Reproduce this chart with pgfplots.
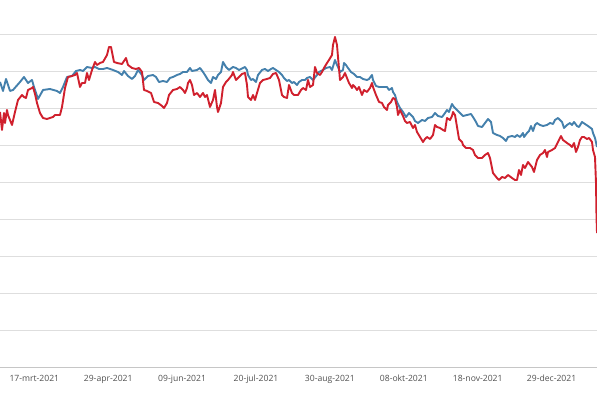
\documentclass[border=0pt]{standalone}
\usepackage{pgfplots}
\pgfplotsset{compat=1.18}
\usepackage{pgfplotstable}
\usepackage{fontspec}
\setmainfont{Open Sans}
\definecolor{serblue}{RGB}{68,128,172}
\definecolor{serred}{RGB}{208,32,45}
\definecolor{gridc}{RGB}{222,222,222}
\definecolor{labc}{RGB}{80,80,80}

\pgfplotstableread{
x y
0 285
3 276
6 288
10 276
13 277
20 285
24 290
28 284
32 287
34 280
38 268
43 277
50 278
57 276
60 274
63 280
67 290
72 291
76 296
80 297
83 296
87 300
92 299
95 300
99 298
103 298
107 299
113 297
118 295
122 292
124 296
128 291
132 288
135 291
138 297
142 292
144 287
148 291
153 292
156 290
159 285
163 286
167 285
170 289
173 290
177 292
180 293
183 295
187 295
190 299
192 296
197 297
200 299
203 295
205 292
208 287
211 284
213 290
216 288
218 292
221 295
223 305
226 300
229 297
233 300
236 299
239 297
243 299
245 300
247 297
248 292
251 287
253 288
256 285
258 292
262 297
265 298
268 296
271 298
273 299
276 297
279 295
282 292
284 289
287 286
289 287
292 284
294 285
297 282
299 285
302 287
305 287
307 289
310 290
313 287
317 292
319 295
323 297
326 299
330 300
332 297
335 307
337 302
338 300
340 295
343 297
344 304
346 302
348 299
351 295
354 293
357 290
360 290
363 288
367 287
369 288
372 292
373 287
376 281
379 280
383 280
387 280
389 277
392 279
393 275
395 272
397 265
400 259
403 255
406 250
409 254
413 250
415 246
418 244
422 247
425 246
428 249
432 250
435 254
438 251
442 250
445 254
447 257
449 255
452 263
454 260
457 257
460 254
463 251
467 252
471 253
473 250
476 245
478 241
482 240
485 244
488 248
491 245
493 234
497 232
500 231
503 229
506 226
508 230
512 231
515 230
517 232
520 230
523 234
524 230
527 234
529 236
531 241
533 236
535 242
537 244
540 242
543 241
547 242
550 244
553 243
555 247
558 249
562 245
564 239
567 242
570 244
572 242
574 245
577 241
579 240
582 245
585 243
588 241
592 238
593 234
595 229
597 220
}\blueseries

\pgfplotstableread{
x y
0 255
2 237
4 254
5 244
7 257
8 252
12 242
15 255
18 267
22 272
24 270
26 269
28 277
32 279
33 280
35 273
37 264
40 254
43 249
47 248
50 249
53 250
55 252
60 252
62 260
65 279
68 290
72 291
75 292
77 294
80 280
82 284
85 284
87 294
89 287
92 297
95 305
97 302
100 304
103 305
107 312
109 320
111 320
114 305
117 304
122 303
126 309
128 302
132 299
136 298
139 299
142 295
144 277
147 276
151 274
154 265
158 264
162 261
164 259
167 264
169 272
173 277
177 278
180 280
183 277
185 274
187 279
188 284
190 287
192 282
194 272
197 274
200 270
203 274
205 270
207 272
210 260
213 267
215 277
217 260
218 255
221 264
223 280
226 285
228 287
232 292
233 295
236 287
238 289
242 293
245 294
247 282
248 270
251 267
253 272
255 267
257 274
260 284
263 287
267 288
270 289
273 293
276 294
279 287
282 272
284 270
287 269
289 282
292 274
294 272
298 272
301 277
303 279
306 277
308 287
310 280
313 282
314 291
315 300
317 294
320 292
322 295
324 299
327 304
329 307
332 312
333 322
335 330
337 322
338 310
340 287
343 290
345 294
347 289
349 284
352 279
353 282
355 280
357 277
359 280
362 272
364 277
367 275
370 279
372 284
373 280
376 272
379 265
382 264
384 260
387 257
388 262
391 265
393 269
395 268
397 260
398 252
400 257
403 251
405 246
407 244
410 245
413 239
415 242
417 235
420 230
423 225
425 228
427 230
430 228
433 232
435 242
437 240
440 239
443 237
445 236
447 249
450 247
452 251
453 255
455 252
457 240
459 228
462 225
463 222
466 219
470 219
473 217
475 212
478 209
482 209
485 212
488 214
490 209
493 194
497 189
499 187
502 190
505 189
508 192
512 189
515 187
517 187
519 197
521 192
523 202
525 199
528 205
532 200
534 195
537 207
540 212
543 214
545 217
547 210
548 215
552 217
555 219
558 225
561 231
563 227
567 224
570 222
572 220
574 224
576 215
578 220
580 227
582 230
584 230
587 228
589 229
592 225
593 217
595 210
596 184
596.5 150
597 134
}\redseries

\begin{document}
\begin{tikzpicture}
\begin{axis}[
  at={(0pt,0pt)}, anchor=south west,
  scale only axis, width=597pt, height=367pt,
  xmin=0, xmax=597, ymin=0, ymax=367,
  axis x line*=bottom, axis y line*=left,
  y axis line style={draw=none},
  x axis line style={draw=gray!45, line width=0.8pt},
  ymajorgrids, grid style={draw=gridc, line width=0.8pt},
  ytick={37,74,...,370}, yticklabels={},
  xtick={34.3,108.2,182.1,256,329.9,403.8,477.7,551.6},
  xticklabels={17-mrt-2021,29-apr-2021,09-jun-2021,20-jul-2021,30-aug-2021,08-okt-2021,18-nov-2021,29-dec-2021},
  major tick length=0pt,
  xticklabel style={anchor=base, yshift=-14.5pt, font=\fontsize{8.6}{10}\selectfont, text=labc},
  clip=true,
]
\addplot[serblue, line width=1.9pt, line join=round, no markers] table[x=x,y=y] {\blueseries};
\addplot[serred, line width=1.9pt, line join=round, no markers] table[x=x,y=y] {\redseries};
\end{axis}
\pgfresetboundingbox
\path[use as bounding box] (0pt,-31pt) rectangle (597pt,367pt);
\end{tikzpicture}
\end{document}
